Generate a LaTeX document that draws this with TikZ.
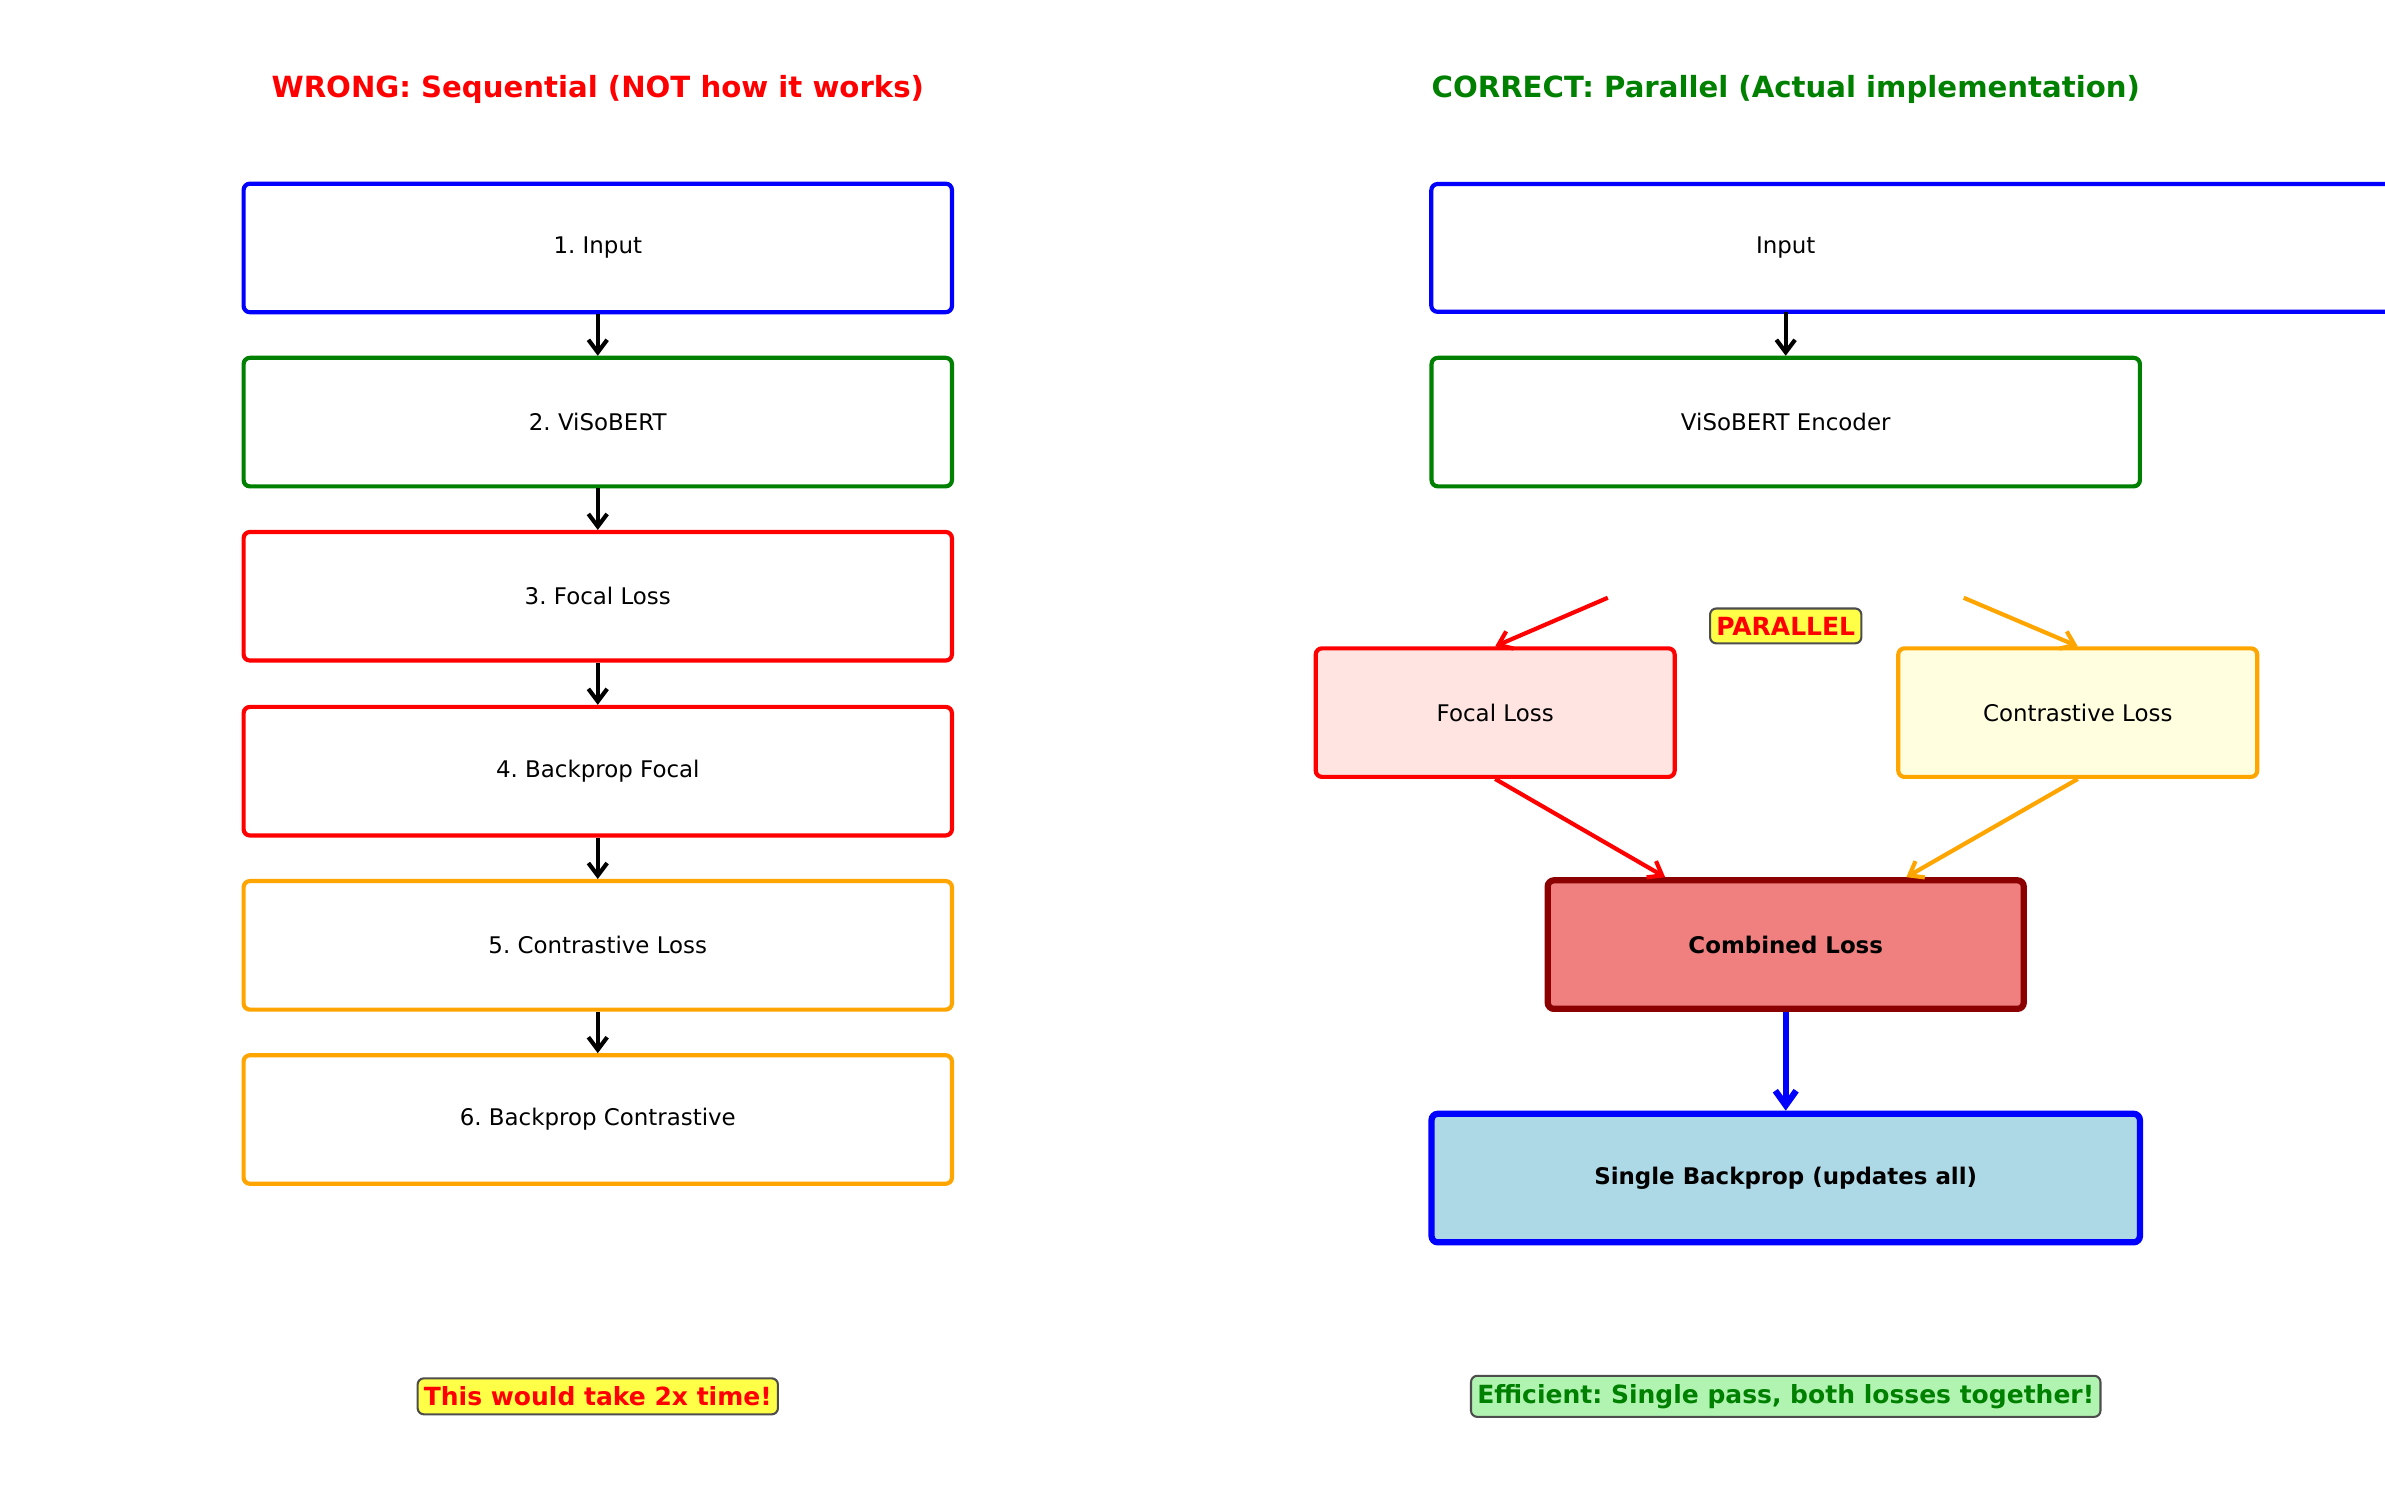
\documentclass[tikz,border=0pt]{standalone}
\usepackage{fontspec}
\setmainfont{DejaVu Sans}
\usetikzlibrary{arrows.meta,calc}
\definecolor{mred}{HTML}{FF0000}
\definecolor{mgreen}{HTML}{008000}
\definecolor{morange}{HTML}{FFA500}
\definecolor{mdarkred}{HTML}{8B0000}
\definecolor{mblue}{HTML}{0000FF}
\definecolor{mmisty}{HTML}{FFE4E1}
\definecolor{mlyellow}{HTML}{FFFFE0}
\definecolor{mlcoral}{HTML}{F08080}
\definecolor{mlblue}{HTML}{ADD8E6}
\definecolor{myellowa}{HTML}{FFFF47}
\definecolor{mgreena}{HTML}{B1F4B1}
\definecolor{mgrayedge}{HTML}{4D4D4D}
\frenchspacing
\tikzset{
  box/.style={draw, line width=2pt, rounded corners=3pt, minimum width=340pt, minimum height=61.7pt, font=\fontsize{11}{13}\selectfont, inner sep=0pt},
  smallbox/.style={box, minimum width=172.3pt},
  arr/.style={line width=2pt, -{Straight Barb[length=6pt,width=9pt,line width=2pt]}},
  title/.style={font=\bfseries\fontsize{14}{16}\selectfont},
  tag/.style={draw=mgrayedge, line width=1pt, rounded corners=3pt, inner xsep=3pt, inner ysep=4pt, font=\bfseries\fontsize{12}{14}\selectfont}
}
\begin{document}
\begin{tikzpicture}[x=0.7301pt, y=-0.7301pt]
\useasboundingbox (0,0) rectangle (1568,976);
\clip (0,0) rectangle (1568,976);
\fill[white] (0,0) rectangle (1568,976);

% titles
\node[title, text=mred] (t1) at (393,58.5) {WRONG: Sequential (NOT how it works)};
\node[title, text=mgreen] (t2) at (1174,58.5) {CORRECT: Parallel (Actual implementation)};

% left column
\node[box, draw=mblue] (b1) at (393,163) {1. Input};
\node[box, draw=mgreen] (b2) at (393,277.5) {2. ViSoBERT};
\node[box, draw=mred] (b3) at (393,392) {3. Focal Loss};
\node[box, draw=mred] (b4) at (393,507) {4. Backprop Focal};
\node[box, draw=morange] (b5) at (393,621.5) {5. Contrastive Loss};
\node[box, draw=morange] (b6) at (393,736) {6. Backprop Contrastive};
\draw[arr] (b1.south) -- (b2.north);
\draw[arr] (b2.south) -- (b3.north);
\draw[arr] (b3.south) -- (b4.north);
\draw[arr] (b4.south) -- (b5.north);
\draw[arr] (b5.south) -- (b6.north);

\node[tag, fill=myellowa, text=mred] (n1) at (393,918) {This would take 2x time!};

% right column
\draw[mblue, line width=2pt, rounded corners=3pt] (1650,205) -- (941,205) -- (941,121) -- (1650,121);
\node[font=\fontsize{11}{13}\selectfont] (in) at (1174,163) {Input};
\coordinate (inb) at (1174,205);
\node[box, draw=mgreen] (enc) at (1174,277.5) {ViSoBERT Encoder};
\draw[arr] (inb) -- (enc.north);

\node[tag, fill=myellowa, text=mred] (par) at (1174,411.5) {PARALLEL};
\coordinate (pl) at (1057,393);
\coordinate (pr) at (1291,393);

\node[smallbox, draw=mred, fill=mmisty] (focal) at (983,468.5) {Focal Loss};
\node[smallbox, draw=morange, fill=mlyellow] (contr) at (1366,468.5) {Contrastive Loss};
\draw[arr, mred] (pl) -- (focal.north);
\draw[arr, morange] (pr) -- (contr.north);

\node[box, draw=mdarkred, fill=mlcoral, line width=3pt, minimum width=228.5pt, font=\bfseries\fontsize{11}{13}\selectfont] (comb) at (1174,621) {Combined Loss};
\draw[arr, mred] (focal.south) -- ($(comb.north west)!0.25!(comb.north east)$);
\draw[arr, morange] (contr.south) -- ($(comb.north west)!0.75!(comb.north east)$);

\node[box, draw=mblue, fill=mlblue, line width=3pt, font=\bfseries\fontsize{11}{13}\selectfont] (single) at (1174,774.5) {Single Backprop (updates all)};
\draw[line width=3pt, mblue, -{Straight Barb[length=7pt,width=10pt,line width=3pt]}] (comb.south) -- (single.north);

\node[tag, fill=mgreena, text=mgreen] (n2) at (1174,918) {Efficient: Single pass, both losses together!};
\end{tikzpicture}
\end{document}
